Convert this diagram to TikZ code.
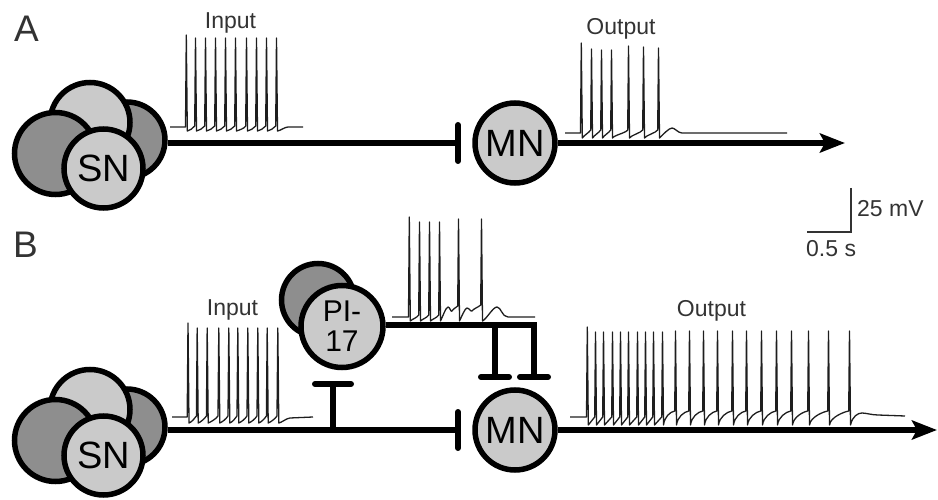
\documentclass[tikz,border=0pt]{standalone}
\usepackage{fontspec}
\setmainfont{Liberation Sans}
\usetikzlibrary{arrows.meta,calc}
\definecolor{lightc}{HTML}{CACACA}
\definecolor{darkc}{HTML}{8E8E8E}
\definecolor{tracec}{HTML}{1E1E1E}
\definecolor{textc}{HTML}{333333}
\tikzset{
 cell/.style={circle,draw=black,line width=5.5pt,inner sep=0pt,fill=lightc},
 dcell/.style={cell,fill=darkc},
 axon/.style={line width=6pt,draw=black},
 tbar/.style={line width=6pt,draw=black,line cap=round},
 trace/.style={line width=1.3pt,draw=tracec,line join=round},
 lab/.style={font=\fontsize{23}{25}\selectfont,text=textc,inner sep=0pt},
 panel/.style={font=\fontsize{37}{38}\selectfont,text=textc,inner sep=0pt},
 cellfont/.style={font=\fontsize{38}{38}\selectfont},
 outarrow/.style={axon,-{Stealth[length=25pt,width=19pt,inset=5pt]}},
 scalebar/.style={line width=2pt,draw=textc},
}
\begin{document}
\begin{tikzpicture}[x=1pt,y=-1pt]
\useasboundingbox (0,0) rectangle (938,500);

% ---------- Panel A ----------
\node[panel,anchor=base west] (labA) at (14,42) {A};

\node[dcell,minimum size=76] (rA) at (127,140) {};
\node[cell,minimum size=80] (uA) at (90,122.5) {};
\node[dcell,minimum size=82] (lA) at (55.5,153.5) {};
\node[cell,cellfont,minimum size=79] (snA) at (103.5,168.5) {SN};

\node[cell,cellfont,minimum size=80] (mnA) at (515,143) {MN};
\coordinate (tA) at (458,143);
\coordinate (endA) at (845,143);

\draw[axon] (rA.east |- tA) -- (tA);
\draw[tbar] ($(tA)+(0,-18)$) -- ($(tA)+(0,18)$);
\draw[outarrow] (mnA) -- (endA);

\node[lab,anchor=base] (inA) at (230.5,29) {Input};
\node[lab,anchor=base] (outA) at (621,35) {Output};

% input trace A
\draw[trace] (170,127) -- (185.5,127) -- (186.3,35) -- (187.3,131)
  foreach \s in {195,205,215,225,235,246,256,266,276} {
    .. controls +(2.5,-1) and +(-2,3) .. (\s-0.3,126) -- (\s+0.5,38) -- (\s+1.5,131) }
  .. controls +(2,0) and +(-3,0) .. (288,127) -- (303,127);

% output trace A
\draw[trace] (565,133) -- (580.5,133) -- (581.3,43) -- (582.3,138)
  foreach \s/\t in {591/49,601/50,611/50,628/46,643/47,658/48} {
    .. controls +(2,-3) and +(-2,3) .. (\s-0.3,130) -- (\s+0.5,\t) -- (\s+1.5,138) }
  .. controls +(3,-3) and +(-3,0) .. (672,128) .. controls +(3,0) and +(-4,0) .. (682,133) -- (787,133);

% scale bar
\coordinate (sbc) at (851,232);
\draw[scalebar] (851,188) -- (sbc) -- (807,232);
\node[lab,anchor=base west] (sbv) at (857,217) {25 mV};
\node[lab,anchor=base west] (sbh) at (806,257) {0.5 s};

% ---------- Panel B ----------
\node[panel,anchor=base west] (labB) at (13,258) {B};

\node[dcell,minimum size=76] (rB) at (127,427) {};
\node[cell,minimum size=80] (uB) at (90,409.5) {};
\node[dcell,minimum size=82] (lB) at (55.5,440.5) {};
\node[cell,cellfont,minimum size=79] (snB) at (103.5,455.5) {SN};

\node[dcell,minimum size=73] (piback) at (318,300) {};
\node[cell,minimum size=82,align=center,font=\fontsize{30}{30}\selectfont] (pi) at (342,326.5) {PI-\\17};

\node[cell,cellfont,minimum size=80] (mnB) at (515,430) {MN};
\coordinate (tB) at (458,430);
\coordinate (endB) at (937,430);
\coordinate (jB) at (333,430);
\coordinate (pbB) at (333,384);

\draw[axon] (rB.east |- tB) -- (tB);
\draw[tbar] ($(tB)+(0,-18)$) -- ($(tB)+(0,18)$);
\draw[outarrow] (mnB) -- (endB);

% PI-17 onto the sensory axon
\draw[axon] (jB) -- (pbB);
\draw[tbar] ($(pbB)+(-18,0)$) -- ($(pbB)+(18,0)$);

% PI-17 axon onto MN
\coordinate (pc) at (534,325);
\coordinate (b1) at (495,325);
\coordinate (e1) at (495,377);
\coordinate (e2) at (534,377);
\draw[axon,line join=miter] (pi.east |- pc) -- (pc) -- (e2);
\draw[axon] (b1) -- (e1);
\draw[tbar] ($(e1)+(-14,0)$) -- ($(e1)+(14,0)$);
\draw[tbar] ($(e2)+(-14,0)$) -- ($(e2)+(14,0)$);

\node[lab,anchor=base] (inB) at (232.5,315) {Input};
\node[lab,anchor=base] (outB) at (711.5,316) {Output};

% input trace B
\draw[trace] (172,417) -- (187.2,417) -- (188,323) -- (189,423)
  foreach \s in {196.7,206.7,218.3,228.3,237.3,247.3,257.3,266.7,277.3} {
    .. controls +(2.5,-1) and +(-2,3) .. (\s-0.3,416) -- (\s+0.5,328) -- (\s+1.5,423) }
  .. controls +(2,0) and +(-3,0) .. (290,418) -- (313,417);

% PI-17 trace
\draw[trace] (392,317) -- (408.5,317) -- (409.3,217) -- (410.3,321)
  foreach \s/\t in {419/222,429/222,439/222} {
    .. controls +(2,-2) and +(-2,3) .. (\s-0.3,315) -- (\s+0.5,\t) -- (\s+1.5,321) }
  .. controls +(2,-4) and +(-2,0) .. (448,307) .. controls +(2,0) and +(-1,2) .. (452,311)
  .. controls +(1,-2) and +(-1,1) .. (457.7,306) -- (458.5,219) -- (459.5,321)
  .. controls +(2,-4) and +(-2,0) .. (467,308) .. controls +(2,0) and +(-1,1) .. (472,311)
  .. controls +(1,-2) and +(-2,2) .. (480.7,305) -- (481.5,219) -- (482.5,321)
  .. controls +(4,-2) and +(-4,0) .. (497,307) .. controls +(4,0) and +(-6,0) .. (508,317) -- (535,317);

% output trace B
\draw[trace] (570,417) -- (586.5,417) -- (587.3,327) -- (588.3,425)
  foreach \s in {595,603,612,620,628,637,645,653,662} {
    .. controls +(2,-3) and +(-2,3) .. (\s-0.3,417) -- (\s+0.5,332) -- (\s+1.5,425) }
  foreach \s in {675,689,703,717,732,746,761,776,791,808,828,849} {
    .. controls +(1,-8) and +(-5,1) .. (\s-0.3,411) -- (\s+0.5,331) -- (\s+1.5,425) }
  .. controls +(2,-9) and +(-4,0) .. (862,413) .. controls +(4,0) and +(-6,0) .. (878,415) -- (905,416);

\end{tikzpicture}
\end{document}
